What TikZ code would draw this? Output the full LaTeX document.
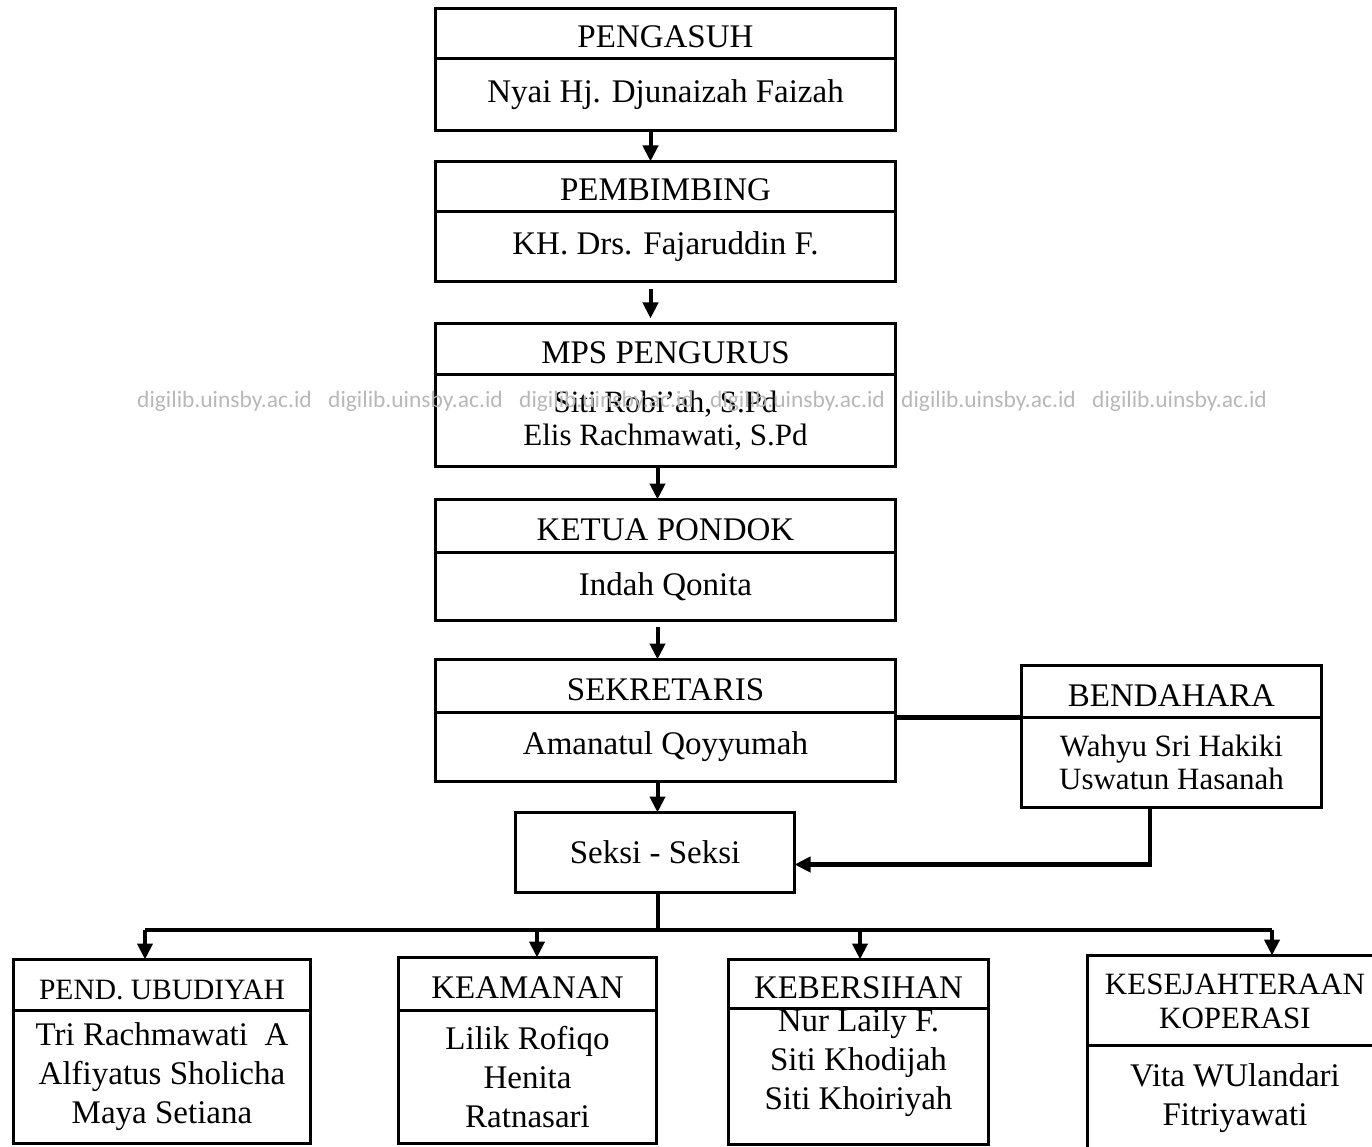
\documentclass[tikz,border=0pt]{standalone}
\usepackage{fontspec}
\setmainfont{Liberation Serif}
\newfontfamily\wmfamily{Carlito}
\usetikzlibrary{positioning, arrows.meta}
\newcommand{\orgfont}{\fontsize{33}{39}\selectfont}
\newcommand{\orgnarrow}{\fontsize{31}{33}\selectfont}
\newcommand{\orgsmall}{\fontsize{29.5}{34}\selectfont}
\definecolor{wmgray}{HTML}{B8B8B8}
\tikzstyle{head} = [rectangle, draw=black, line width=3.5pt, minimum width=460pt, minimum height=50pt, inner sep=0pt, outer sep=0pt, align=center, text height=29pt, text depth=0pt, font=\orgfont]
\tikzstyle{body} = [rectangle, draw=black, line width=3.5pt, minimum width=460pt, minimum height=72pt, inner sep=0pt, outer sep=0pt, align=center, font=\orgfont]
\tikzstyle{conn} = [line width=4.5pt]
\tikzstyle{arrow} = [line width=4pt, -{Triangle[width=15pt,length=16pt]}]
\tikzstyle{wmtext} = [inner sep=0pt, anchor=west, text=wmgray, font=\wmfamily\fontsize{23.5}{26}\selectfont]

\begin{document}
\begin{tikzpicture}[x=1pt, y=-1pt]
\useasboundingbox (0,0) rectangle (1372,1147);
\node (pengasuh) [head, anchor=north] at (665.5,8.5) {PENGASUH};
\node (pengasuhbody) [body, below=0pt of pengasuh] {Nyai Hj. Djunaizah Faizah};
\node (pembimbing) [head, below=31pt of pengasuhbody] {PEMBIMBING};
\node (pembimbingbody) [body, minimum height=70pt, below=0pt of pembimbing] {KH. Drs. Fajaruddin F.};
\node (mps) [head, minimum height=51pt, below=42pt of pembimbingbody] {MPS PENGURUS};
\node (mpsbody) [body, minimum height=92pt, font=\orgnarrow, below=0pt of mps] {Siti Robi'ah, S.Pd\\Elis Rachmawati, S.Pd};
\node (ketua) [head, minimum height=53pt, below=33pt of mpsbody] {KETUA PONDOK};
\node (ketuabody) [body, minimum height=68pt, below=0pt of ketua] {Indah Qonita};
\node (sekretaris) [head, minimum height=53pt, below=39pt of ketuabody] {SEKRETARIS};
\node (sekretarisbody) [body, minimum height=69pt, below=0pt of sekretaris] {Amanatul Qoyyumah};
\node (bendahara) [head, minimum width=300pt, minimum height=52pt, anchor=north] at (1171.5,665.5) {BENDAHARA};
\node (bendaharabody) [body, minimum width=300pt, minimum height=90pt, font=\orgnarrow, below=0pt of bendahara] {Wahyu Sri Hakiki\\Uswatun Hasanah};
\node (seksi) [body, minimum width=279pt, minimum height=80pt, below=31pt of sekretarisbody, xshift=-10.5pt] {Seksi - Seksi};
\node (ubudiyah) [head, minimum width=297pt, minimum height=51pt, font=\orgsmall, anchor=north] at (162,959.5) {PEND. UBUDIYAH};
\node (ubudiyahbody) [body, minimum width=297pt, minimum height=133pt, below=0pt of ubudiyah] {Tri Rachmawati\ \ A\\Alfiyatus Sholicha\\Maya Setiana};
\node (keamanan) [head, minimum width=258pt, minimum height=53pt, anchor=north] at (527.5,957.5) {KEAMANAN};
\node (keamananbody) [body, minimum width=258pt, minimum height=133pt, below=0pt of keamanan] {Lilik Rofiqo\\Henita\\Ratnasari};
\node (kebersihan) [head, minimum width=260pt, minimum height=49pt, anchor=north] at (858.5,959.5) {KEBERSIHAN};
\node (kebersihanbody) [body, minimum width=260pt, minimum height=135pt, text depth=35pt, below=0pt of kebersihan] {Nur Laily F.\\Siti Khodijah\\Siti Khoiriyah};
\node (kesejahteraan) [head, minimum width=295pt, minimum height=90pt, text height=56pt, font=\fontsize{31}{34}\selectfont, anchor=north] at (1235,955.5) {KESEJAHTERAAN\\KOPERASI};
\node (kesejahteraanbody) [body, minimum width=295pt, minimum height=106pt, below=0pt of kesejahteraan] {Vita WUlandari\\Fitriyawati};
\coordinate (busL) at (145,930);
\coordinate (busA) at (537,930);
\coordinate (busB) at (860,930);
\coordinate (busR) at (1272,930);
\draw [arrow] ([xshift=-15pt]pengasuhbody.south) -- ([xshift=-15pt]pembimbing.north);
\draw [arrow, shorten <=8pt, shorten >=5pt] ([xshift=-15pt]pembimbingbody.south) -- ([xshift=-15pt]mps.north);
\draw [arrow] ([xshift=-8pt]mpsbody.south) -- ([xshift=-8pt]ketua.north);
\draw [arrow, shorten <=6pt] ([xshift=-8pt]ketuabody.south) -- ([xshift=-8pt]sekretaris.north);
\draw [arrow] ([xshift=-8pt]sekretarisbody.south) -- ([xshift=-8pt]sekretarisbody.south |- seksi.north);
\draw [conn] (bendaharabody.north west) -- (bendaharabody.north west -| sekretarisbody.east);
\draw [arrow, line width=4.5pt] ([xshift=-21.5pt]bendaharabody.south) |- ([yshift=-12pt]seksi.east);
\draw [conn] ([xshift=3pt]seksi.south) -- ([xshift=3pt]seksi.south |- busL);
\draw [conn] (busL) -- (busR);
\draw [arrow] (busL) -- (busL |- ubudiyah.north);
\draw [arrow] (busA) -- (busA |- keamanan.north);
\draw [arrow] (busB) -- (busB |- kebersihan.north);
\draw [arrow] (busR) -- (busR |- kesejahteraan.north);
\foreach \i in {0,...,5}
  \node (wm\i) [wmtext] at (137+191*\i,401) {digilib.uinsby.ac.id};
\end{tikzpicture}
\end{document}
